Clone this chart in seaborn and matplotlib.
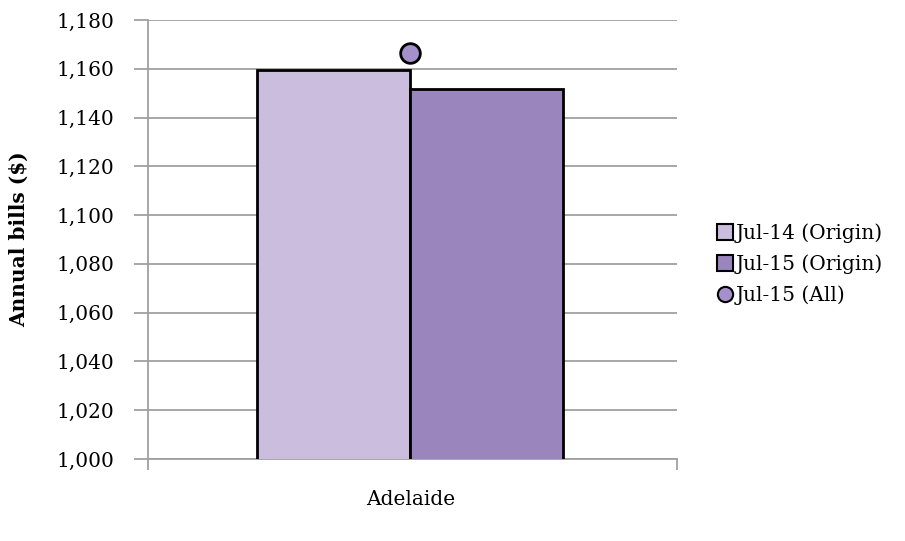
import matplotlib
matplotlib.use("Agg")
import matplotlib.pyplot as plt
from matplotlib.lines import Line2D
import seaborn as sns
import pandas as pd

categories = ["Adelaide"]
series_names = ["Jul-14 (Origin)", "Jul-15 (Origin)"]
jul14_origin = [1159.6]
jul15_origin = [1151.8]
point_name = "Jul-15 (All)"
jul15_all = [1166.6]
y_ticks = [1000, 1020, 1040, 1060, 1080, 1100, 1120, 1140, 1160, 1180]

bar_colors = ["#cbbddd", "#9b85bd"]
point_color = "#a690cb"

df = pd.DataFrame({
    "city": categories * 2,
    "series": [series_names[0]] * len(categories) + [series_names[1]] * len(categories),
    "value": jul14_origin + jul15_origin,
})
dfp = pd.DataFrame({"city": categories, "value": jul15_all})

sns.set_style("white")
plt.rcParams["font.family"] = ["DejaVu Serif"]
plt.rcParams["text.color"] = "black"
plt.rcParams["axes.labelcolor"] = "black"
plt.rcParams["xtick.color"] = "black"
plt.rcParams["ytick.color"] = "black"
plt.rcParams["ytick.left"] = True
plt.rcParams["xtick.bottom"] = True

fig = plt.figure(figsize=(9.05, 5.41), dpi=100)
ax = fig.add_axes([0.1635, 0.1516, 0.5845, 0.8115])

sns.barplot(data=df, x="city", y="value", hue="series", palette=bar_colors,
            width=0.578, edgecolor="black", linewidth=2, ax=ax, legend=False,
            zorder=3, saturation=1)
sns.scatterplot(data=dfp, x="city", y="value", color=point_color, s=200,
                edgecolor="black", linewidth=2, ax=ax, zorder=4, legend=False)

ax.set_ylim(1000, 1180)
ax.set_xlim(-0.496, 0.504)
ax.set_yticks(y_ticks)
ax.set_yticklabels([f"{v:,}" for v in y_ticks], fontsize=14.5)
ax.yaxis.grid(True, color="#a0a0a0", linewidth=1.3, zorder=0)
ax.set_axisbelow(True)
for s in ["top", "right"]:
    ax.spines[s].set_visible(False)
for s in ["left", "bottom"]:
    ax.spines[s].set_color("#a0a0a0")
    ax.spines[s].set_linewidth(1.3)
ax.tick_params(axis="y", length=10, width=1.3, color="#a0a0a0", labelcolor="black",
               left=True, direction="out", pad=14)
ax.tick_params(axis="x", length=0, labelsize=14.5, labelcolor="black", pad=22)
ax.set_xticks([0])
ax.set_xticklabels(categories)
ax.set_xticks([-0.496, 0.504], minor=True)
ax.tick_params(axis="x", which="minor", length=8, width=1.3, color="#a0a0a0", bottom=True)
ax.set_xlabel("")
ax.set_ylabel("Annual bills ($)", fontsize=14.5, fontweight="bold", labelpad=20, color="black")

handles = [
    Line2D([], [], marker="s", linestyle="", markersize=11, markerfacecolor=bar_colors[0],
           markeredgecolor="black", markeredgewidth=1.5),
    Line2D([], [], marker="s", linestyle="", markersize=11, markerfacecolor=bar_colors[1],
           markeredgecolor="black", markeredgewidth=1.5),
    Line2D([], [], marker="o", linestyle="", markersize=11, markerfacecolor=point_color,
           markeredgecolor="black", markeredgewidth=1.5),
]
fig.legend(handles, series_names + [point_name], loc="center left",
           bbox_to_anchor=(0.772, 0.512), frameon=False, fontsize=14.5,
           handlelength=0.8, handletextpad=0.15, labelspacing=0.55, labelcolor="black")

fig.savefig("out.png", dpi=100)
